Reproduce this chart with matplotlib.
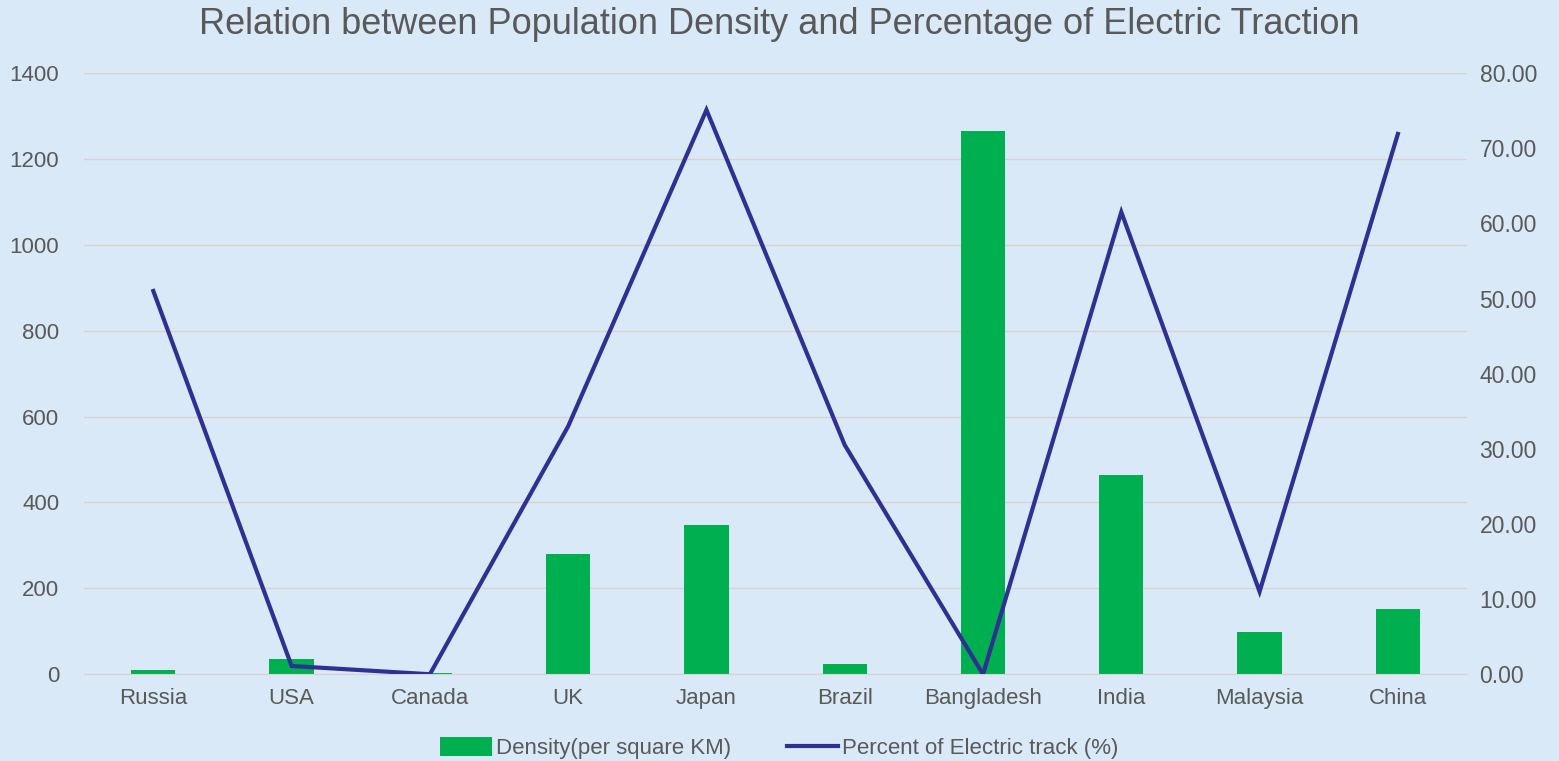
import matplotlib
matplotlib.use("Agg")
import matplotlib.pyplot as plt
import numpy as np
from matplotlib.ticker import FuncFormatter, MultipleLocator

countries = ["Russia", "USA", "Canada", "UK", "Japan", "Brazil",
             "Bangladesh", "India", "Malaysia", "China"]
density = [9, 36, 4, 281, 347, 25, 1265, 464, 99, 153]
electric_pct = [51.0, 1.1, 0.0, 33.0, 75.1, 30.5, 0.0, 61.5, 11.0, 71.9]

title = "Relation between Population Density and Percentage of Electric Traction"
label_density = "Density(per square KM)"
label_pct = "Percent of Electric track (%)"

plt.rcParams['font.family'] = ['Liberation Sans', 'DejaVu Sans']
text_color = "#595959"
bg = "#DAE9F7"

fig = plt.figure(figsize=(15.59, 7.61), dpi=100, facecolor=bg)
ax = fig.add_axes([0.054, 0.114, 0.887, 0.790])
ax.set_facecolor(bg)
ax2 = ax.twinx()

x = np.arange(len(countries))
bars = ax.bar(x, density, width=0.32, color="#00B050", label=label_density, zorder=2)
line, = ax2.plot(x, electric_pct, color="#2E3192", lw=3, label=label_pct,
                 solid_joinstyle="miter", zorder=3)

ax.set_xlim(-0.5, len(countries) - 0.5)
ax.set_ylim(0, 1400)
ax.yaxis.set_major_locator(MultipleLocator(200))
ax2.set_ylim(0, 80)
ax2.yaxis.set_major_locator(MultipleLocator(10))
ax2.yaxis.set_major_formatter(FuncFormatter(lambda v, p: f"{v:.2f}"))

ax.grid(axis="y", color="#D9D3CF", lw=1, zorder=0)
ax.set_axisbelow(True)
for a in (ax, ax2):
    for s in a.spines.values():
        s.set_visible(False)
    a.tick_params(length=0, labelsize=16, labelcolor=text_color)
ax.spines["bottom"].set_visible(True)
ax.spines["bottom"].set_color("#D9D3CF")

ax.set_xticks(x)
ax.set_xticklabels(countries)
ax.tick_params(axis="x", pad=10)
ax.tick_params(axis="y", pad=18)
ax2.tick_params(axis="y", pad=9, labelsize=16.5)

ax2.set_zorder(ax.get_zorder() + 1)
ax2.patch.set_visible(False)

fig.text(0.5, 0.968, title, ha="center", va="center", fontsize=26, color=text_color)

fig.legend([bars, line], [label_density, label_pct], loc="center",
           bbox_to_anchor=(0.5, 0.017), ncol=2, frameon=False, fontsize=16,
           labelcolor=text_color, handlelength=2.3, handleheight=0.9,
           handletextpad=0.2, columnspacing=2.5)

fig.savefig("out.png", dpi=100, facecolor=bg)
